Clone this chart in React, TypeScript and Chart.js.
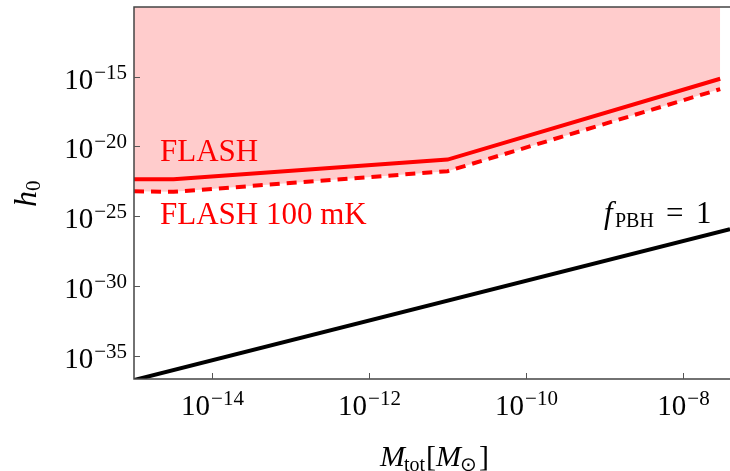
import { useEffect, useRef } from 'react';
import { Chart, registerables } from 'chart.js';

Chart.register(...registerables);

// ---- data ----
const flashMass = [1e-15, 3.2e-15, 1e-11, 3e-8];
const flashH0 = [4.5e-23, 4.5e-23, 1.15e-21, 7.2e-16];
const flash100mKMass = [1e-15, 3.2e-15, 1e-11, 3e-8];
const flash100mKH0 = [6.2e-24, 5.6e-24, 1.7e-22, 1.3e-16];
const pbhMass = [1e-15, 4e-8];
const pbhH0 = [1.8e-37, 1.2e-26];

const xTickExponents = [-14, -12, -10, -8];
const yTickExponents = [-15, -20, -25, -30, -35];

const xMin = 1e-15;
const xMax = 4e-8;
const yMin = 2.14e-37;
const yMax = 1e-10;

const SERIF = '"Liberation Serif", "Times New Roman", serif';

function pts(xs: number[], ys: number[]) {
  return xs.map((x, i) => ({ x, y: ys[i] }));
}

function drawPow(ctx: CanvasRenderingContext2D, exp: number, x: number, baseY: number, align: 'center' | 'right') {
  const base = '10';
  const sup = '\u2212' + Math.abs(exp);
  ctx.font = `29px ${SERIF}`;
  const wb = ctx.measureText(base).width;
  ctx.font = `21px ${SERIF}`;
  const ws = ctx.measureText(sup).width;
  const total = wb + 1 + ws;
  const left = align === 'center' ? x - total / 2 : x - total;
  ctx.textAlign = 'left';
  ctx.textBaseline = 'alphabetic';
  ctx.fillStyle = '#000';
  ctx.font = `29px ${SERIF}`;
  ctx.fillText(base, left, baseY);
  ctx.font = `21px ${SERIF}`;
  ctx.fillText(sup, left + wb + 1, baseY - 10);
}

const overlay = {
  id: 'overlay',
  afterDraw(chart: any) {
    const { ctx, chartArea: a, scales } = chart;
    const xs = scales.x;
    const ys = scales.y;
    ctx.save();
    // frame
    ctx.strokeStyle = '#444';
    ctx.lineWidth = 1.5;
    ctx.beginPath();
    ctx.moveTo(a.right, a.top);
    ctx.lineTo(a.left, a.top);
    ctx.lineTo(a.left, a.bottom);
    ctx.lineTo(a.right, a.bottom);
    ctx.stroke();

    // ticks + labels
    ctx.strokeStyle = '#555';
    ctx.lineWidth = 1;
    xTickExponents.forEach((e) => {
      const px = Math.round(xs.getPixelForValue(Math.pow(10, e))) + 0.5;
      ctx.beginPath();
      ctx.moveTo(px, a.bottom);
      ctx.lineTo(px, a.bottom - 6);
      ctx.stroke();
      drawPow(ctx, e, px, a.bottom + 36, 'center');
    });
    yTickExponents.forEach((e) => {
      const py = Math.round(ys.getPixelForValue(Math.pow(10, e))) + 0.5;
      ctx.beginPath();
      ctx.moveTo(a.left, py);
      ctx.lineTo(a.left + 6, py);
      ctx.stroke();
      drawPow(ctx, e, a.left - 7, py + 11, 'right');
    });

    // annotations
    ctx.textAlign = 'left';
    ctx.textBaseline = 'alphabetic';
    ctx.fillStyle = '#ff0000';
    ctx.font = `31px ${SERIF}`;
    ctx.fillText('FLASH', 160, 161);
    ctx.fillText('FLASH 100 mK', 160, 224);

    ctx.fillStyle = '#000';
    ctx.font = `italic 31px ${SERIF}`;
    ctx.fillText('f', 604, 223);
    ctx.font = `20px ${SERIF}`;
    ctx.fillText('PBH', 615, 227);
    ctx.font = `31px ${SERIF}`;
    ctx.fillText('=', 666, 223);
    ctx.fillText('1', 696, 223);

    // x title: M_tot[M_⊙]
    let cx = 380;
    const tb = 466;
    ctx.font = `italic 30px ${SERIF}`;
    ctx.fillText('M', cx, tb);
    cx += ctx.measureText('M').width - 1;
    ctx.font = `20px ${SERIF}`;
    ctx.fillText('tot', cx, tb + 5);
    cx += ctx.measureText('tot').width + 1;
    ctx.font = `30px ${SERIF}`;
    ctx.fillText('[', cx, tb);
    cx += ctx.measureText('[').width;
    ctx.font = `italic 30px ${SERIF}`;
    ctx.fillText('M', cx, tb);
    cx += ctx.measureText('M').width - 1;
    ctx.font = `20px ${SERIF}`;
    ctx.fillText('\u2299', cx, tb + 5);
    cx += ctx.measureText('\u2299').width + 2;
    ctx.font = `30px ${SERIF}`;
    ctx.fillText(']', cx, tb);

    // y title: h_0 (rotated)
    ctx.save();
    ctx.translate(36, 207);
    ctx.rotate(-Math.PI / 2);
    ctx.font = `italic 32px ${SERIF}`;
    ctx.fillText('h', 0, 0);
    const hw = ctx.measureText('h').width;
    ctx.font = `21px ${SERIF}`;
    ctx.fillText('0', hw, 4);
    ctx.restore();

    ctx.restore();
  },
};

export default function App() {
  const ref = useRef<HTMLCanvasElement | null>(null);
  useEffect(() => {
    if (!ref.current) return;
    const chart = new Chart(ref.current, {
      type: 'line',
      data: {
        datasets: [
          {
            label: 'FLASH',
            data: pts(flashMass, flashH0),
            borderColor: '#ff0000',
            borderWidth: 4,
            pointRadius: 0,
            fill: false,
            tension: 0,
            clip: 0,
          },
          {
            label: 'f_PBH = 1',
            data: pts(pbhMass, pbhH0),
            borderColor: '#000000',
            borderWidth: 4,
            pointRadius: 0,
            fill: false,
            tension: 0,
            clip: 0,
          },
          {
            label: 'FLASH 100 mK',
            data: pts(flash100mKMass, flash100mKH0),
            borderColor: '#ff0000',
            borderWidth: 4,
            borderDash: [10, 7],
            backgroundColor: 'rgba(255,0,0,0.2)',
            pointRadius: 0,
            fill: 'end',
            tension: 0,
            clip: 0,
          },
        ],
      },
      options: {
        animation: false,
        responsive: false,
        maintainAspectRatio: false,
        layout: { padding: { left: 134, top: 7, right: 0, bottom: 92 } },
        plugins: {
          legend: { display: false },
          tooltip: { enabled: false },
        },
        scales: {
          x: {
            type: 'logarithmic',
            min: xMin,
            max: xMax,
            display: false,
          },
          y: {
            type: 'logarithmic',
            min: yMin,
            max: yMax,
            display: false,
          },
        },
      },
      plugins: [overlay],
    });
    return () => chart.destroy();
  }, []);
  return (
    <div style={{ position: 'absolute', left: 0, top: 0, width: 730, height: 471, background: '#fff' }}>
      <canvas ref={ref} width={730} height={471} style={{ width: 730, height: 471 }} />
    </div>
  );
}
